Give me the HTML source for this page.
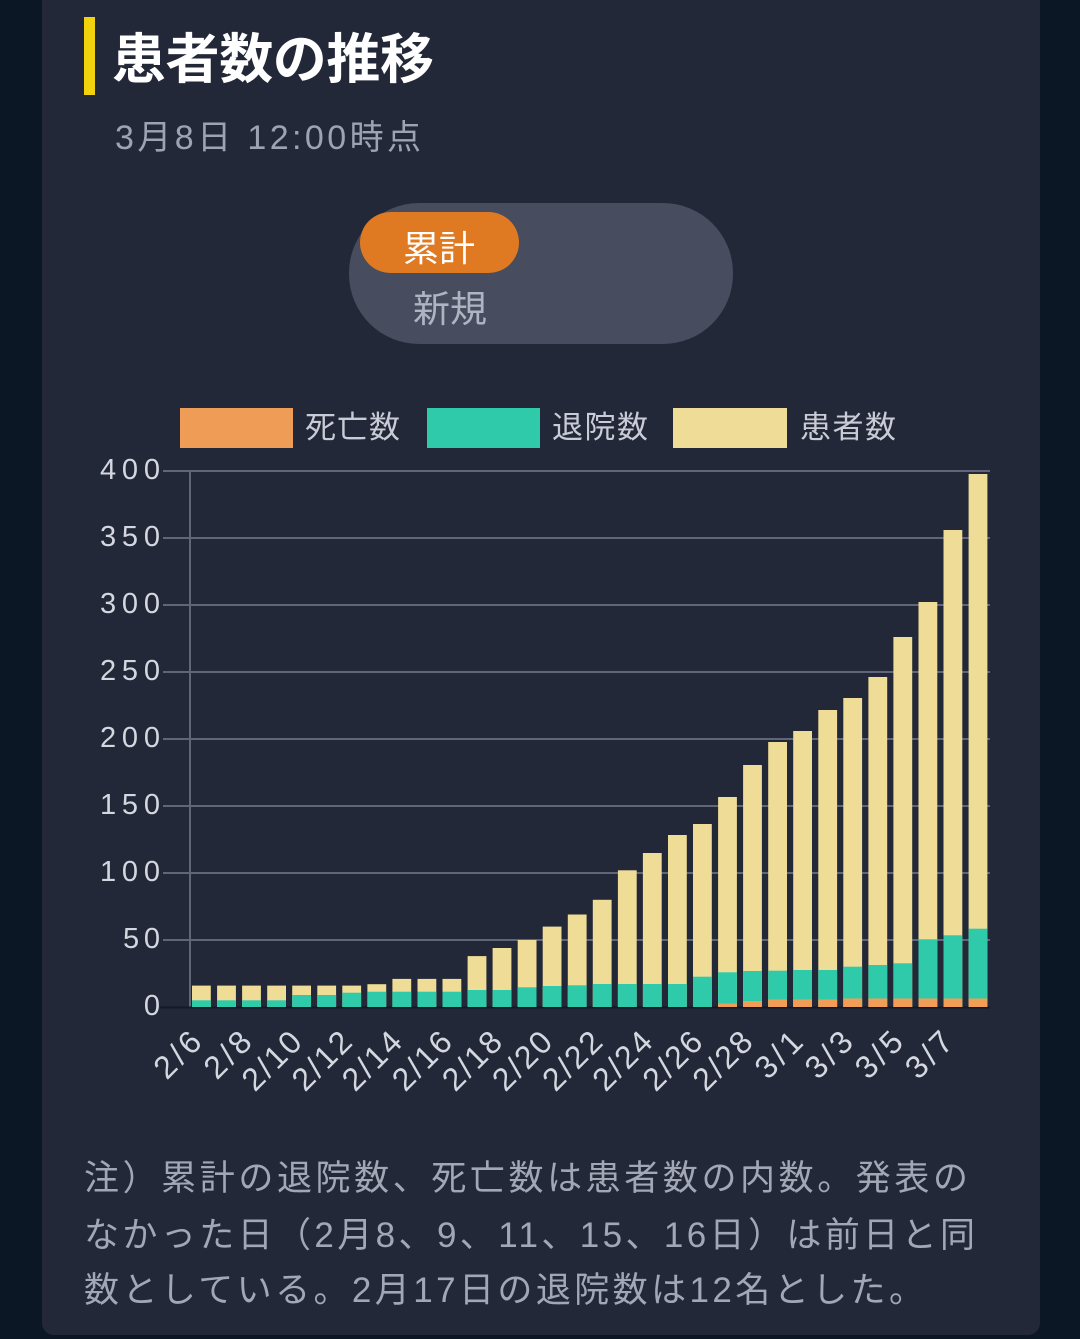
<!DOCTYPE html>
<html lang="ja">
<head>
<meta charset="utf-8">
<style>
  html,body{margin:0;padding:0;background:#0b1724;}
  body{width:1080px;height:1339px;overflow:hidden;}
  svg{display:block;}
  text{font-family:"Liberation Sans","Noto Sans CJK JP",sans-serif;}
</style>
</head>
<body>
<svg width="1080" height="1339" viewBox="0 0 1080 1339" xmlns="http://www.w3.org/2000/svg">
  <rect x="0" y="0" width="1080" height="1339" fill="#0b1724"/>
  <rect x="42" y="-20" width="998" height="1355" rx="12" fill="#232838"/>

  <!-- Title -->
  <rect x="84" y="17" width="11" height="78" fill="#f2d20c"/>
  <text x="112" y="78" font-size="54" font-weight="bold" fill="#ffffff" textLength="322" lengthAdjust="spacing">患者数の推移</text>
  <text x="115" y="149" font-size="34" fill="#9ea2b1" textLength="306" lengthAdjust="spacing">3月8日 12:00時点</text>

  <!-- Toggle -->
  <rect x="349" y="203" width="384" height="141" rx="70" fill="#474c5f"/>
  <rect x="360" y="212" width="159" height="61" rx="30.5" fill="#e07a22"/>
  <text x="439" y="261" font-size="36" fill="#ffffff" text-anchor="middle">累計</text>
  <text x="450" y="322" font-size="37" fill="#b0b4c2" text-anchor="middle">新規</text>

  <!-- Legend -->
  <rect x="180" y="408" width="113" height="40" fill="#ef9c56"/>
  <text x="305" y="438" font-size="31" fill="#c9ccd6" textLength="95" lengthAdjust="spacing">死亡数</text>
  <rect x="427" y="408" width="113" height="40" fill="#2fcaa9"/>
  <text x="552" y="438" font-size="31" fill="#c9ccd6" textLength="96" lengthAdjust="spacing">退院数</text>
  <rect x="673" y="408" width="114" height="40" fill="#efdc96"/>
  <text x="800" y="438" font-size="31" fill="#c9ccd6" textLength="96" lengthAdjust="spacing">患者数</text>

  <!-- Grid -->
  <g stroke="#60657a" stroke-width="2">
    <line x1="163" y1="471" x2="990" y2="471"/>
    <line x1="163" y1="538" x2="990" y2="538"/>
    <line x1="163" y1="605" x2="990" y2="605"/>
    <line x1="163" y1="672" x2="990" y2="672"/>
    <line x1="163" y1="739" x2="990" y2="739"/>
    <line x1="163" y1="806" x2="990" y2="806"/>
    <line x1="163" y1="873" x2="990" y2="873"/>
    <line x1="163" y1="940" x2="990" y2="940"/>
    <line x1="190" y1="471" x2="190" y2="1007"/>
  </g>
  <line x1="160" y1="1007.5" x2="990" y2="1007.5" stroke="#151925" stroke-width="2"/>

  <!-- Y labels -->
  <g font-size="29" fill="#d4d7df" text-anchor="end">
    <text x="160" y="479" textLength="60" lengthAdjust="spacing">400</text>
    <text x="160" y="546" textLength="60" lengthAdjust="spacing">350</text>
    <text x="160" y="613" textLength="60" lengthAdjust="spacing">300</text>
    <text x="160" y="680" textLength="60" lengthAdjust="spacing">250</text>
    <text x="160" y="747" textLength="60" lengthAdjust="spacing">200</text>
    <text x="160" y="814" textLength="60" lengthAdjust="spacing">150</text>
    <text x="160" y="881" textLength="60" lengthAdjust="spacing">100</text>
    <text x="160" y="948" textLength="37" lengthAdjust="spacing">50</text>
    <text x="160" y="1015">0</text>
  </g>

  <!-- Bars: patients (yellow) -->
  <g fill="#efdc96">
    <rect x="192.0" y="985.6" width="18.8" height="21.4"/>
    <rect x="217.1" y="985.6" width="18.8" height="21.4"/>
    <rect x="242.1" y="985.6" width="18.8" height="21.4"/>
    <rect x="267.2" y="985.6" width="18.8" height="21.4"/>
    <rect x="292.2" y="985.6" width="18.8" height="21.4"/>
    <rect x="317.3" y="985.6" width="18.8" height="21.4"/>
    <rect x="342.3" y="985.6" width="18.8" height="21.4"/>
    <rect x="367.4" y="984.2" width="18.8" height="22.8"/>
    <rect x="392.4" y="978.9" width="18.8" height="28.1"/>
    <rect x="417.5" y="978.9" width="18.8" height="28.1"/>
    <rect x="442.5" y="978.9" width="18.8" height="28.1"/>
    <rect x="467.6" y="956.1" width="18.8" height="50.9"/>
    <rect x="492.6" y="948.0" width="18.8" height="59"/>
    <rect x="517.7" y="940" width="18.8" height="67"/>
    <rect x="542.7" y="926.6" width="18.8" height="80.4"/>
    <rect x="567.8" y="914.5" width="18.8" height="92.5"/>
    <rect x="592.8" y="899.8" width="18.8" height="107.2"/>
    <rect x="617.9" y="870.3" width="18.8" height="136.7"/>
    <rect x="642.9" y="853" width="18.8" height="154"/>
    <rect x="668.0" y="835" width="18.8" height="172"/>
    <rect x="693.0" y="824" width="18.8" height="183"/>
    <rect x="718.1" y="797" width="18.8" height="210"/>
    <rect x="743.1" y="765" width="18.8" height="242"/>
    <rect x="768.2" y="742" width="18.8" height="265"/>
    <rect x="793.2" y="731" width="18.8" height="276"/>
    <rect x="818.3" y="710" width="18.8" height="297"/>
    <rect x="843.3" y="698" width="18.8" height="309"/>
    <rect x="868.4" y="677" width="18.8" height="330"/>
    <rect x="893.4" y="637" width="18.8" height="370"/>
    <rect x="918.5" y="602" width="18.8" height="405"/>
    <rect x="943.5" y="530" width="18.8" height="477"/>
    <rect x="968.6" y="474" width="18.8" height="533"/>
  </g>

  <!-- Bars: recovered (green) -->
  <g fill="#2fcaa9">
    <rect x="192.0" y="1000.3" width="18.8" height="6.7"/>
    <rect x="217.1" y="1000.3" width="18.8" height="6.7"/>
    <rect x="242.1" y="1000.3" width="18.8" height="6.7"/>
    <rect x="267.2" y="1000.3" width="18.8" height="6.7"/>
    <rect x="292.2" y="995" width="18.8" height="12"/>
    <rect x="317.3" y="995" width="18.8" height="12"/>
    <rect x="342.3" y="992.7" width="18.8" height="14.3"/>
    <rect x="367.4" y="991.7" width="18.8" height="15.3"/>
    <rect x="392.4" y="991.7" width="18.8" height="15.3"/>
    <rect x="417.5" y="991.7" width="18.8" height="15.3"/>
    <rect x="442.5" y="991.7" width="18.8" height="15.3"/>
    <rect x="467.6" y="990" width="18.8" height="17"/>
    <rect x="492.6" y="990" width="18.8" height="17"/>
    <rect x="517.7" y="987.3" width="18.8" height="19.7"/>
    <rect x="542.7" y="986" width="18.8" height="21"/>
    <rect x="567.8" y="985.3" width="18.8" height="21.7"/>
    <rect x="592.8" y="984" width="18.8" height="23"/>
    <rect x="617.9" y="984" width="18.8" height="23"/>
    <rect x="642.9" y="984" width="18.8" height="23"/>
    <rect x="668.0" y="984" width="18.8" height="23"/>
    <rect x="693.0" y="976.7" width="18.8" height="30.3"/>
    <rect x="718.1" y="972.3" width="18.8" height="34.7"/>
    <rect x="743.1" y="971" width="18.8" height="36"/>
    <rect x="768.2" y="970.7" width="18.8" height="36.3"/>
    <rect x="793.2" y="970" width="18.8" height="37"/>
    <rect x="818.3" y="970" width="18.8" height="37"/>
    <rect x="843.3" y="966.7" width="18.8" height="40.3"/>
    <rect x="868.4" y="965" width="18.8" height="42"/>
    <rect x="893.4" y="963.3" width="18.8" height="43.7"/>
    <rect x="918.5" y="939.3" width="18.8" height="67.7"/>
    <rect x="943.5" y="935.3" width="18.8" height="71.7"/>
    <rect x="968.6" y="928.7" width="18.8" height="78.3"/>
  </g>

  <!-- Bars: deaths (orange) -->
  <g fill="#f29d56">
    <rect x="718.1" y="1003.5" width="18.8" height="3.5"/>
    <rect x="743.1" y="1001" width="18.8" height="6"/>
    <rect x="768.2" y="999.5" width="18.8" height="7.5"/>
    <rect x="793.2" y="999.5" width="18.8" height="7.5"/>
    <rect x="818.3" y="999.5" width="18.8" height="7.5"/>
    <rect x="843.3" y="998.5" width="18.8" height="8.5"/>
    <rect x="868.4" y="998.5" width="18.8" height="8.5"/>
    <rect x="893.4" y="998.5" width="18.8" height="8.5"/>
    <rect x="918.5" y="998.5" width="18.8" height="8.5"/>
    <rect x="943.5" y="998.5" width="18.8" height="8.5"/>
    <rect x="968.6" y="998.5" width="18.8" height="8.5"/>
  </g>

  <!-- X labels -->
  <g font-size="32" fill="#d4d7df" text-anchor="end">
    <text transform="translate(203.5,1044) rotate(-45)" textLength="52" lengthAdjust="spacing">2/6</text>
    <text transform="translate(253.6,1044) rotate(-45)" textLength="52" lengthAdjust="spacing">2/8</text>
    <text transform="translate(303.7,1044) rotate(-45)" textLength="69" lengthAdjust="spacing">2/10</text>
    <text transform="translate(353.8,1044) rotate(-45)" textLength="69" lengthAdjust="spacing">2/12</text>
    <text transform="translate(403.9,1044) rotate(-45)" textLength="69" lengthAdjust="spacing">2/14</text>
    <text transform="translate(454.0,1044) rotate(-45)" textLength="69" lengthAdjust="spacing">2/16</text>
    <text transform="translate(504.1,1044) rotate(-45)" textLength="69" lengthAdjust="spacing">2/18</text>
    <text transform="translate(554.2,1044) rotate(-45)" textLength="69" lengthAdjust="spacing">2/20</text>
    <text transform="translate(604.3,1044) rotate(-45)" textLength="69" lengthAdjust="spacing">2/22</text>
    <text transform="translate(654.4,1044) rotate(-45)" textLength="69" lengthAdjust="spacing">2/24</text>
    <text transform="translate(704.5,1044) rotate(-45)" textLength="69" lengthAdjust="spacing">2/26</text>
    <text transform="translate(754.6,1044) rotate(-45)" textLength="69" lengthAdjust="spacing">2/28</text>
    <text transform="translate(804.7,1044) rotate(-45)" textLength="52" lengthAdjust="spacing">3/1</text>
    <text transform="translate(854.8,1044) rotate(-45)" textLength="52" lengthAdjust="spacing">3/3</text>
    <text transform="translate(904.9,1044) rotate(-45)" textLength="52" lengthAdjust="spacing">3/5</text>
    <text transform="translate(955.0,1044) rotate(-45)" textLength="52" lengthAdjust="spacing">3/7</text>
  </g>

  <!-- Footer note -->
  <g font-size="35" fill="#a3a7b5">
    <text x="84" y="1190" textLength="884" lengthAdjust="spacing">注）累計の退院数、死亡数は患者数の内数。発表の</text>
    <text x="84" y="1247" textLength="891" lengthAdjust="spacing">なかった日（2月8、9、11、15、16日）は前日と同</text>
    <text x="84" y="1302" textLength="840" lengthAdjust="spacing">数としている。2月17日の退院数は12名とした。</text>
  </g>
</svg>
</body>
</html>
